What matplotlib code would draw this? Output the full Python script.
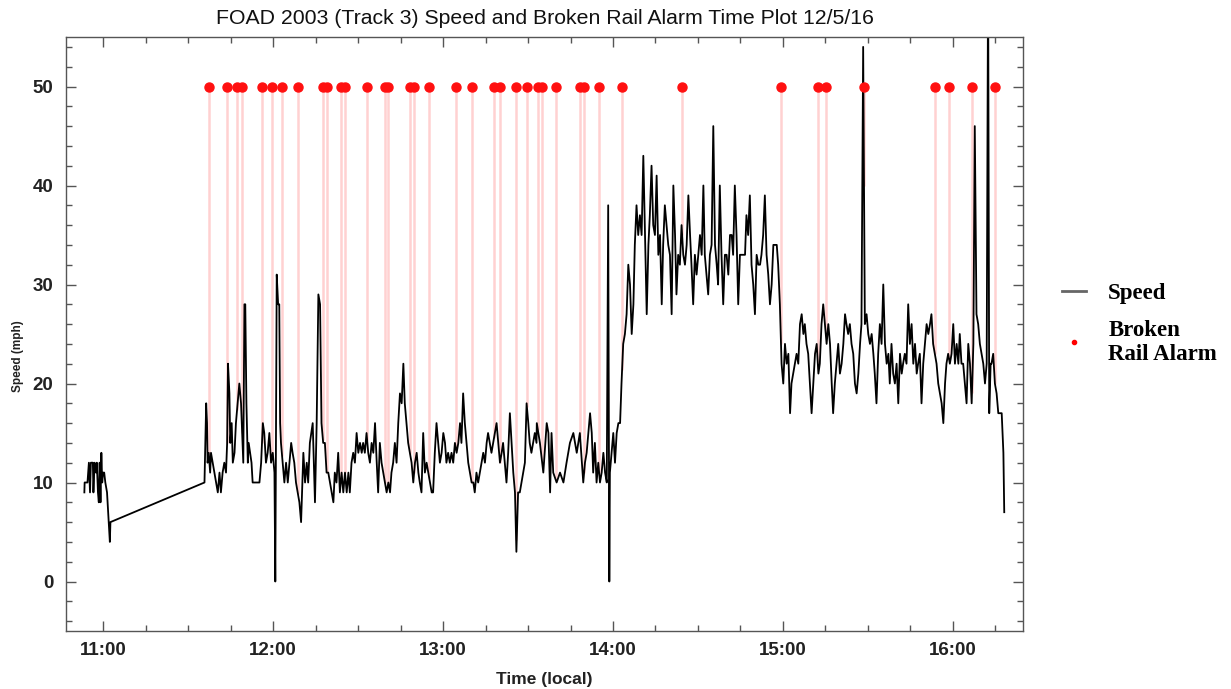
import numpy as np
import matplotlib
matplotlib.use("Agg")
import matplotlib.pyplot as plt
from matplotlib.lines import Line2D
from matplotlib.ticker import MultipleLocator, FuncFormatter

plt.rcParams['font.family'] = ['Liberation Sans', 'DejaVu Sans']

# speed samples: (minutes after 11:00, mph)
seg_before_gap = [(-6.6, 9), (-6.5, 10), (-5.5, 10), (-5.0, 12), (-4.6, 9), (-4.3, 12),
                  (-3.6, 12), (-3.4, 9), (-3.0, 12), (-2.5, 11), (-2.2, 12), (-1.8, 9),
                  (-1.5, 8), (-1.2, 12), (-0.9, 8), (-0.6, 13), (-0.3, 10), (0.0, 11),
                  (0.4, 11), (0.8, 10), (1.4, 9), (2.0, 6), (2.4, 4), (2.6, 6)]

seg_1136 = [(35.8, 10), (36.4, 18), (36.7, 16), (36.9, 12), (37.3, 13), (37.8, 11),
            (38.1, 13), (38.7, 12), (39.3, 11), (39.9, 10), (40.5, 9), (41.1, 11),
            (41.6, 9), (42.2, 11), (42.8, 12), (43.4, 11), (43.8, 14), (44.1, 22),
            (44.6, 19), (44.9, 14), (45.4, 16), (45.8, 12), (46.4, 13), (46.9, 16),
            (47.5, 18), (48.1, 20), (48.7, 18), (49.1, 15), (49.5, 12), (49.9, 28),
            (50.2, 28), (50.6, 18), (51.1, 12), (51.4, 14), (51.9, 13), (52.4, 12),
            (52.8, 10), (54.0, 10), (55.2, 10), (55.8, 12), (56.4, 16), (56.9, 15),
            (57.5, 12), (58.1, 13), (58.7, 15), (59.3, 12), (59.9, 13), (60.5, 11),
            (60.8, 0), (61.3, 31), (61.8, 28), (62.2, 28), (62.5, 16), (62.8, 14),
            (63.4, 12), (64.0, 10), (64.6, 12), (65.2, 10), (65.8, 12), (66.4, 14),
            (66.9, 13), (67.5, 12), (68.1, 10), (68.7, 9), (69.3, 8), (69.9, 6)]

seg_1210 = [(70.7, 13), (71.3, 10), (71.9, 12), (72.4, 10), (73.0, 14), (74.0, 16),
            (74.8, 8), (75.4, 16), (76.0, 29), (76.6, 28), (77.1, 16), (77.7, 14),
            (78.3, 14), (78.9, 11), (79.5, 11), (80.1, 10), (80.7, 9), (81.3, 8),
            (81.8, 11), (82.4, 10), (83.0, 13), (83.6, 9), (84.2, 11), (84.8, 9),
            (85.4, 11), (86.0, 9), (86.6, 11), (87.1, 9), (87.7, 12), (88.3, 13),
            (88.9, 12), (89.5, 15), (90.1, 13), (90.7, 14), (91.3, 13), (91.8, 14),
            (92.4, 13), (93.0, 15), (93.6, 13), (94.2, 12), (94.8, 14), (95.4, 13),
            (96.0, 16), (96.6, 12), (97.1, 9), (97.7, 14), (98.3, 12), (98.9, 11),
            (99.5, 10), (100.1, 9), (100.7, 10), (101.3, 9), (101.8, 11), (102.4, 12),
            (103.0, 14), (103.6, 12), (104.2, 16), (104.8, 19), (105.4, 18), (106.0, 22),
            (106.5, 18), (107.1, 16), (107.7, 14), (108.3, 13), (108.9, 12), (109.5, 10),
            (110.1, 12), (110.7, 13), (111.3, 11), (111.8, 10), (112.4, 9), (113.0, 15),
            (113.6, 11), (114.2, 12), (114.8, 11), (115.4, 10), (116.0, 9), (116.5, 9),
            (117.1, 13), (117.7, 16), (118.3, 14), (118.9, 12), (119.5, 13)]

seg_1300 = [(120.1, 15), (120.7, 14), (121.2, 12), (121.8, 13), (122.4, 12), (123.0, 13),
            (123.6, 12), (124.2, 14), (124.8, 13), (125.4, 14), (126.0, 16), (126.5, 14),
            (127.1, 19), (127.7, 16), (128.3, 14), (128.9, 12), (129.5, 11), (130.1, 10),
            (130.7, 10), (131.2, 9), (131.8, 11), (132.4, 10), (133.0, 11), (133.6, 12),
            (134.2, 13), (134.8, 12), (135.4, 14), (135.9, 15), (136.5, 14), (137.1, 13),
            (137.7, 14), (138.3, 15), (138.9, 16), (139.5, 14), (140.1, 12), (140.7, 13),
            (141.2, 14), (141.8, 12), (142.4, 10), (143.0, 13), (143.6, 17), (144.2, 14),
            (144.8, 11), (145.4, 9), (145.9, 3), (146.5, 9), (147.1, 9), (147.7, 10),
            (148.3, 11), (148.9, 12), (149.5, 18), (150.1, 16), (150.6, 14), (151.2, 13),
            (151.8, 14), (152.4, 15), (153.0, 14), (153.1, 16), (154.2, 14), (155.4, 11),
            (156.6, 16), (157.2, 15), (157.8, 9), (158.3, 15), (158.9, 11), (160.1, 10),
            (161.3, 11), (162.5, 10), (163.6, 12), (164.8, 14), (166.0, 15), (167.2, 13),
            (168.3, 15), (169.5, 10), (170.1, 12), (170.7, 13), (171.9, 17), (172.5, 15),
            (173.0, 11), (173.6, 14), (174.2, 10), (174.8, 12), (175.4, 10), (176.0, 11),
            (176.6, 13), (177.2, 11), (177.8, 10), (178.3, 38), (178.7, 0), (178.9, 11),
            (179.5, 13)]

seg_1400 = [(180.1, 15), (180.7, 12), (181.3, 15), (181.9, 16), (182.5, 16), (183.0, 20),
            (183.6, 24), (184.2, 25), (184.8, 27), (185.4, 32), (186.0, 30), (186.6, 25),
            (187.2, 28), (187.7, 34), (188.3, 38), (188.9, 35), (189.5, 37), (190.1, 35),
            (190.7, 43), (191.3, 35), (191.9, 27), (192.5, 34), (193.0, 37), (193.6, 42),
            (194.2, 36), (194.8, 35), (195.4, 41), (196.0, 33), (196.6, 35), (197.2, 28),
            (197.7, 34), (198.3, 38), (198.9, 36), (199.5, 34), (200.1, 33), (200.7, 27),
            (201.3, 40), (201.9, 35), (202.4, 29), (203.0, 33), (203.6, 32), (204.2, 36),
            (204.8, 33), (205.4, 32), (206.0, 34), (206.6, 39), (207.2, 35), (207.7, 32),
            (208.3, 28), (208.9, 33), (209.5, 31), (210.1, 33), (210.7, 35), (211.3, 33),
            (211.9, 40), (212.4, 33), (213.0, 31), (213.6, 29), (214.2, 33), (214.8, 34),
            (215.4, 46), (216.0, 34), (216.6, 32), (217.1, 30), (217.7, 40), (218.3, 33),
            (218.9, 28), (219.5, 33), (220.1, 33), (220.7, 31), (221.3, 35), (221.9, 35),
            (222.4, 33), (223.0, 40), (223.6, 35), (224.2, 28), (224.8, 33), (225.4, 33),
            (226.0, 33), (226.6, 33), (227.1, 37), (227.7, 35), (228.3, 39), (228.9, 32),
            (229.5, 30), (230.1, 27), (230.7, 33), (231.3, 32), (231.9, 32), (232.4, 33),
            (233.0, 35), (233.6, 39), (234.2, 33), (234.8, 31), (235.4, 28), (236.0, 30),
            (236.6, 34), (237.2, 34), (237.8, 34), (238.3, 32), (238.9, 28), (239.5, 22)]

seg_1500 = [(240.1, 20), (240.7, 24), (241.3, 22), (241.9, 23), (242.5, 17), (243.0, 20),
            (243.6, 21), (244.2, 22), (244.8, 23), (245.4, 22), (246.0, 26), (246.6, 27),
            (247.2, 25), (247.7, 26), (248.3, 24), (248.9, 23), (249.5, 20), (250.1, 17),
            (250.7, 20), (251.3, 23), (251.9, 24), (252.5, 21), (253.0, 22), (253.6, 26),
            (254.2, 28), (254.8, 26), (255.4, 24), (256.0, 26), (256.6, 24), (257.2, 20),
            (257.7, 17), (258.3, 20), (258.9, 22), (259.5, 24), (260.1, 21), (260.7, 22),
            (261.3, 24), (261.9, 27), (262.4, 26), (263.0, 25), (263.6, 26), (264.2, 24),
            (264.8, 23), (265.4, 20), (266.0, 19), (266.6, 21), (267.2, 24), (267.7, 26),
            (268.3, 54), (268.9, 26), (269.5, 27), (270.1, 25), (270.7, 24), (271.3, 25),
            (271.9, 23), (272.4, 21), (273.0, 18), (273.6, 23), (274.2, 26), (274.8, 24),
            (275.4, 30), (276.0, 24), (276.6, 22), (277.2, 23), (277.7, 20), (278.3, 24),
            (278.9, 21), (279.5, 20), (280.1, 22), (280.7, 18), (281.3, 23), (281.9, 21),
            (282.4, 22), (283.0, 23), (283.6, 22), (284.2, 28), (284.8, 24), (285.4, 26),
            (286.0, 22), (286.6, 24), (287.2, 21), (287.7, 22), (288.3, 23), (288.9, 18),
            (289.5, 22), (290.1, 24), (290.7, 26), (291.3, 25), (291.9, 26), (292.4, 27),
            (293.0, 24), (293.6, 23), (294.2, 22), (294.8, 20), (295.4, 19), (296.0, 18),
            (296.6, 16), (297.2, 20), (297.7, 22), (298.3, 23), (298.9, 22), (299.5, 23)]

seg_1600 = [(300.1, 26), (300.7, 22), (301.3, 24), (301.9, 22), (302.4, 25), (303.0, 22),
            (303.6, 22), (304.2, 20), (304.8, 18), (305.4, 24), (306.0, 22), (306.6, 18),
            (307.2, 24), (307.7, 46), (308.3, 27), (308.9, 26), (309.5, 24), (310.1, 23),
            (310.7, 22), (311.3, 20), (311.9, 22), (312.4, 62), (312.8, 17), (313.3, 22),
            (313.6, 22), (314.2, 23), (314.8, 20), (315.4, 19), (316.0, 17), (316.6, 17),
            (317.2, 17), (317.8, 13), (318.1, 7)]

# broken rail alarms, minutes after 11:00
alarm_minutes = [37.4, 43.8, 47.3, 49.1, 56.1, 59.6, 63.2, 68.8, 77.6, 79.1, 84.0, 85.4,
                 93.2, 99.5, 100.6, 108.4, 109.8, 115.1, 124.6, 130.2, 138.0, 140.1,
                 145.8, 149.6, 153.5, 154.9, 159.9, 168.4, 169.8, 175.1, 183.2, 204.4,
                 239.3, 252.4, 255.2, 268.6, 293.6, 298.6, 306.7, 314.8]
alarm_level = 50

hour_ticks = [11, 12, 13, 14, 15, 16]

speed = np.array(seg_before_gap + seg_1136 + seg_1210 + seg_1300 + seg_1400 + seg_1500 + seg_1600, dtype=float)
t_h = 11 + speed[:, 0] / 60.0
v = speed[:, 1]
alarm_h = 11 + np.array(alarm_minutes) / 60.0

fig = plt.figure(figsize=(12.31, 6.89), dpi=100)
ax = fig.add_axes([66 / 1231, 1 - 631 / 689, (1023 - 66) / 1231, (631 - 37) / 689])

# drop lines from alarm marks to the speed trace
ax.vlines(alarm_h, np.interp(alarm_h, t_h, v), alarm_level, color='red', alpha=0.18, lw=1.8, zorder=1)
ax.plot(t_h, v, color='black', lw=1.3, zorder=2)
ax.plot(alarm_h, [alarm_level] * len(alarm_h), 'o', color='#ff1010', ms=6.5, zorder=3, clip_on=False)

ax.set_xlim(10.782, 16.412)
ax.set_ylim(-5, 55)
ax.set_xticks(hour_ticks)
ax.xaxis.set_major_formatter(FuncFormatter(lambda x, _: "%d:00" % int(round(x))))
ax.xaxis.set_minor_locator(MultipleLocator(0.25))
ax.yaxis.set_major_locator(MultipleLocator(10))
ax.yaxis.set_minor_locator(MultipleLocator(2))

ax.tick_params(which='both', direction='in', top=True, right=True, color='#555555')
ax.tick_params(which='major', length=7, width=1)
ax.tick_params(which='minor', length=4, width=1)
ax.tick_params(axis='x', pad=8, labelsize=13.5, labelcolor='#222222')
ax.tick_params(axis='y', pad=9, labelsize=13.5, labelcolor='#222222')
for lab in ax.get_xticklabels() + ax.get_yticklabels():
    lab.set_fontweight('bold')
for sp in ax.spines.values():
    sp.set_color('#555555')
    sp.set_linewidth(1.0)

ax.set_title("FOAD 2003 (Track 3) Speed and Broken Rail Alarm Time Plot 12/5/16",
             fontsize=15.3, pad=9, color='#111111')
ax.set_xlabel("Time (local)", fontsize=12.5, fontweight='bold', color='#222222')
ax.xaxis.set_label_coords(0.5, -0.069)
ax.set_ylabel("Speed (mph)", fontsize=8.5, fontweight='bold', color='#222222')
ax.yaxis.set_label_coords(-0.044, 0.463)

handles = [Line2D([], [], color='#666666', lw=2),
           Line2D([], [], ls='none', marker='o', color='red', ms=3)]
ax.legend(handles, ['Speed', 'Broken\nRail Alarm'], loc='center left', bbox_to_anchor=(1.041, 0.517),
          frameon=False, prop=dict(family='Liberation Serif', weight='bold', size=16.5),
          handlelength=1.05, handletextpad=0.96, labelspacing=0.7, borderpad=0, borderaxespad=0)

plt.savefig("out.png", dpi=100)
